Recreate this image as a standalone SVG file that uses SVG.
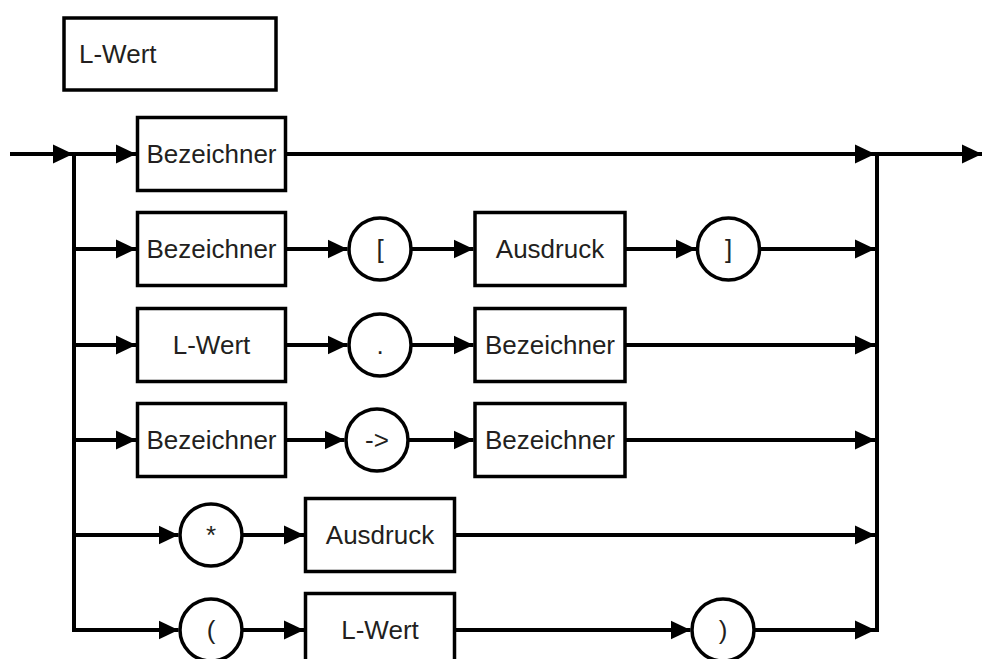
<svg xmlns="http://www.w3.org/2000/svg" width="983" height="659" viewBox="0 0 983 659">
<defs>
<marker id="ah" markerUnits="userSpaceOnUse" markerWidth="20" markerHeight="20" refX="20" refY="10" orient="auto" viewBox="0 0 20 20">
<path d="M0,0.5 L20,10 L0,19.5 z" fill="#000"/>
</marker>
<style>
.b{fill:#fff;stroke:#000;stroke-width:3.5}
.t{font-family:"Liberation Sans",Arial,sans-serif;font-size:26px;fill:#231f20;text-anchor:middle}
.c{fill:none;stroke:#000;stroke-width:4}
.a{marker-end:url(#ah)}
</style>
</defs>
<rect width="983" height="659" fill="#fff"/>
<g id="connectors">
<line class="c a" x1="10" y1="154" x2="73" y2="154"/>
<line class="c" x1="74" y1="152" x2="74" y2="632"/>
<line class="c" x1="877" y1="152" x2="877" y2="632"/>
<line class="c a" x1="877" y1="154" x2="982" y2="154"/>
<line class="c a" x1="74" y1="154" x2="136" y2="154"/>
<line class="c a" x1="287" y1="154" x2="875" y2="154"/>
<line class="c a" x1="74" y1="249" x2="136" y2="249"/>
<line class="c a" x1="287" y1="249" x2="347.5" y2="249"/>
<line class="c a" x1="412" y1="249" x2="473.5" y2="249"/>
<line class="c a" x1="626" y1="249" x2="696" y2="249"/>
<line class="c a" x1="761" y1="249" x2="875" y2="249"/>
<line class="c a" x1="74" y1="345" x2="136" y2="345"/>
<line class="c a" x1="287" y1="345" x2="347.5" y2="345"/>
<line class="c a" x1="412" y1="345" x2="473.5" y2="345"/>
<line class="c a" x1="626" y1="345" x2="875" y2="345"/>
<line class="c a" x1="74" y1="440" x2="136" y2="440"/>
<line class="c a" x1="287" y1="440" x2="344.5" y2="440"/>
<line class="c a" x1="409" y1="440" x2="473.5" y2="440"/>
<line class="c a" x1="626" y1="440" x2="875" y2="440"/>
<line class="c a" x1="74" y1="535" x2="178.5" y2="535"/>
<line class="c a" x1="243" y1="535" x2="304" y2="535"/>
<line class="c a" x1="456" y1="535" x2="875" y2="535"/>
<line class="c a" x1="74" y1="630" x2="178.5" y2="630"/>
<line class="c a" x1="243" y1="630" x2="304" y2="630"/>
<line class="c a" x1="456" y1="630" x2="690.5" y2="630"/>
<line class="c a" x1="755" y1="630" x2="875" y2="630"/>
</g>
<g id="title">
<rect class="b" x="64" y="18" width="212" height="72"/>
<text class="t" x="79" y="63" style="text-anchor:start">L-Wert</text>
</g>
<g id="r1-bez">
<rect class="b" x="137.5" y="117.5" width="148" height="73"/>
<text class="t" x="211.5" y="163">Bezeichner</text>
</g>
<g id="r2-bez">
<rect class="b" x="137.5" y="212.5" width="148" height="73"/>
<text class="t" x="211.5" y="258">Bezeichner</text>
</g>
<g id="r2-lbr">
<circle class="b" cx="380" cy="249" r="31"/>
<text class="t" x="380" y="258">[</text>
</g>
<g id="r2-aus">
<rect class="b" x="475" y="212.5" width="150" height="73"/>
<text class="t" x="550" y="258">Ausdruck</text>
</g>
<g id="r2-rbr">
<circle class="b" cx="728.5" cy="249" r="31"/>
<text class="t" x="728.5" y="258">]</text>
</g>
<g id="r3-lw">
<rect class="b" x="137.5" y="308.5" width="148" height="73"/>
<text class="t" x="211.5" y="354">L-Wert</text>
</g>
<g id="r3-dot">
<circle class="b" cx="380" cy="345" r="31"/>
<text class="t" x="380" y="354">.</text>
</g>
<g id="r3-bez">
<rect class="b" x="475" y="308.5" width="150" height="73"/>
<text class="t" x="550" y="354">Bezeichner</text>
</g>
<g id="r4-bez">
<rect class="b" x="137.5" y="403.5" width="148" height="73"/>
<text class="t" x="211.5" y="449">Bezeichner</text>
</g>
<g id="r4-arrow">
<circle class="b" cx="377" cy="440" r="31"/>
<text class="t" x="377" y="449">-&gt;</text>
</g>
<g id="r4-bez2">
<rect class="b" x="475" y="403.5" width="150" height="73"/>
<text class="t" x="550" y="449">Bezeichner</text>
</g>
<g id="r5-star">
<circle class="b" cx="211" cy="535" r="31"/>
<text class="t" x="211" y="544">*</text>
</g>
<g id="r5-aus">
<rect class="b" x="305.5" y="498.5" width="149" height="73"/>
<text class="t" x="380" y="544">Ausdruck</text>
</g>
<g id="r6-lpar">
<circle class="b" cx="211" cy="630" r="31"/>
<text class="t" x="211" y="639">(</text>
</g>
<g id="r6-lw">
<rect class="b" x="305.5" y="593.5" width="149" height="73"/>
<text class="t" x="380" y="639">L-Wert</text>
</g>
<g id="r6-rpar">
<circle class="b" cx="723" cy="630" r="31"/>
<text class="t" x="723" y="639">)</text>
</g>
</svg>
